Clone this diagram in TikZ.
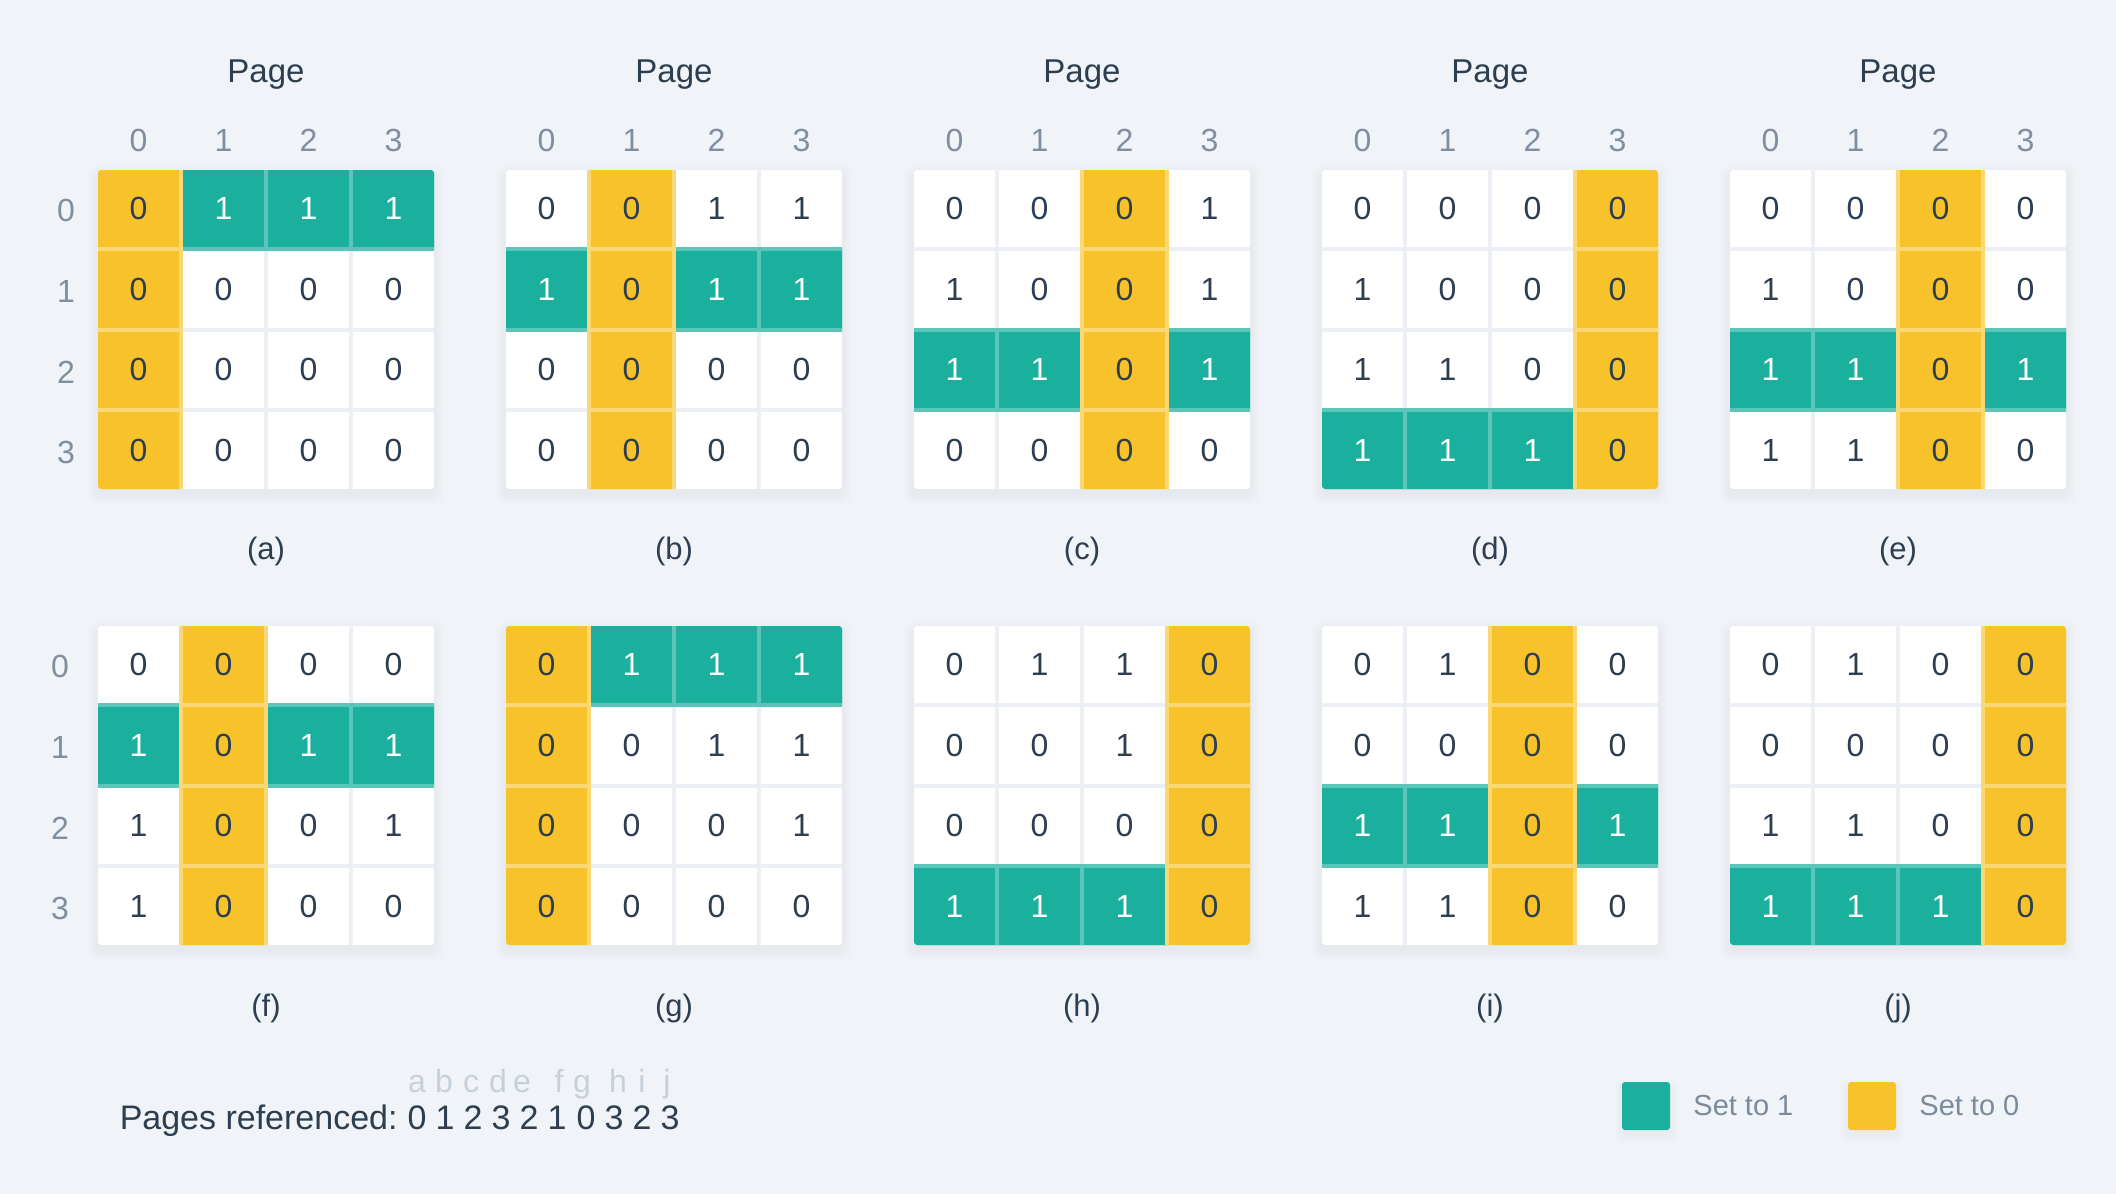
\documentclass[tikz,border=0pt]{standalone}
\usepackage{fontspec}
\setmainfont{Liberation Sans}
\definecolor{bg}{HTML}{F0F3F7}
\definecolor{gapc}{HTML}{ECF0F4}
\definecolor{tealc}{HTML}{1BAF9E}
\definecolor{yelc}{HTML}{F8C32A}
\definecolor{darkc}{HTML}{2C3E50}
\definecolor{hdrc}{HTML}{7F8FA0}
\definecolor{faintc}{HTML}{C6D0DB}
\definecolor{legc}{HTML}{7B8B9C}
\colorlet{teallt}{tealc!72!white}
\colorlet{yellt}{yelc!65!white}
\tikzset{
  celltxt/.style={font=\fontsize{16}{19}\selectfont, text=darkc, inner sep=0pt, anchor=center},
  hdrtxt/.style={font=\fontsize{16}{19}\selectfont, text=hdrc, inner sep=0pt, anchor=center},
  pagetxt/.style={font=\fontsize{16.5}{19}\selectfont, text=darkc, inner sep=0pt, anchor=base},
  captxt/.style={font=\fontsize{15.5}{19}\selectfont, text=darkc, inner sep=0pt, anchor=center},
  reftxt/.style={font=\fontsize{17}{19}\selectfont, text=darkc, inner sep=0pt, anchor=base},
  lettxt/.style={font=\fontsize{16}{19}\selectfont, text=faintc, inner sep=0pt, anchor=base},
  legtxt/.style={font=\fontsize{14.5}{19}\selectfont, text=legc, inner sep=0pt, anchor=base west},
  tealcell/.style={fill=tealc, draw=teallt, line width=2pt},
  yelcell/.style={fill=yelc, draw=yellt, line width=2pt},
  softshadow/.style={fill=black, opacity=0.005},
  legsq/.style={minimum size=24pt, inner sep=0pt, rounded corners=1.5pt, draw=none},
}
% #1 name, #2 left, #3 top, #4 teal row, #5 yellow column, #6 values, #7 caption y
\newcommand\pgrid[7]{%
  \foreach \i in {1,...,10}
    \fill[softshadow, rounded corners=4pt] ({#2-\i},{#3-\i+5}) rectangle ({#2+336+\i},{#3+319+\i+5});
  \begin{scope}
    \clip[rounded corners=1.5pt] (#2,#3) rectangle ++(336,319);
    \fill[gapc] (#2,#3) rectangle ++(336,319);
    \foreach \rr in {0,...,3}
      \foreach \cc in {0,...,3}
        \fill[white] ({#2+85*\cc},{#3+80.75*\rr}) rectangle ++(81,76.75);
    \foreach \cc in {0,...,3} {
      \ifnum\cc=#5\relax\else
        \filldraw[tealcell] ({#2-2+85*\cc},{#3-2+80.75*#4}) rectangle ++(85,80.75);
      \fi
    }
    \foreach \rr in {0,...,3}
      \filldraw[yelcell] ({#2-2+85*#5},{#3-2+80.75*\rr}) rectangle ++(85,80.75);
  \end{scope}
  \foreach \rv [count=\rr from 0] in {#6} {
    \foreach \v [count=\cc from 0] in \rv {
      \ifnum\rr=#4\relax
        \ifnum\cc=#5\relax\def\tcol{darkc}\else\def\tcol{white}\fi
      \else\def\tcol{darkc}\fi
      \node[celltxt, text=\tcol] (#1-\rr-\cc) at ({#2+85*\cc+40.5},{#3+80.75*\rr+38.375}) {\v};
    }
  }
  \node[captxt] (#1-cap) at ({#2+168},#7) {(#1)};
}
\begin{document}
\begin{tikzpicture}[x=0.5pt, y=-0.5pt]
  \useasboundingbox (0,0) rectangle (2116,1194);
  \fill[bg] (0,0) rectangle (2116,1194);

  \pgrid{a}{98}{170}{0}{0}{{0,1,1,1},{0,0,0,0},{0,0,0,0},{0,0,0,0}}{551}
  \pgrid{b}{506}{170}{1}{1}{{0,0,1,1},{1,0,1,1},{0,0,0,0},{0,0,0,0}}{551}
  \pgrid{c}{914}{170}{2}{2}{{0,0,0,1},{1,0,0,1},{1,1,0,1},{0,0,0,0}}{551}
  \pgrid{d}{1322}{170}{3}{3}{{0,0,0,0},{1,0,0,0},{1,1,0,0},{1,1,1,0}}{551}
  \pgrid{e}{1730}{170}{2}{2}{{0,0,0,0},{1,0,0,0},{1,1,0,1},{1,1,0,0}}{551}
  \pgrid{f}{98}{626}{1}{1}{{0,0,0,0},{1,0,1,1},{1,0,0,1},{1,0,0,0}}{1008}
  \pgrid{g}{506}{626}{0}{0}{{0,1,1,1},{0,0,1,1},{0,0,0,1},{0,0,0,0}}{1008}
  \pgrid{h}{914}{626}{3}{3}{{0,1,1,0},{0,0,1,0},{0,0,0,0},{1,1,1,0}}{1008}
  \pgrid{i}{1322}{626}{2}{2}{{0,1,0,0},{0,0,0,0},{1,1,0,1},{1,1,0,0}}{1008}
  \pgrid{j}{1730}{626}{3}{3}{{0,1,0,0},{0,0,0,0},{1,1,0,0},{1,1,1,0}}{1008}

  % titles and column headers (top row)
  \foreach \g/\L in {a/98,b/506,c/914,d/1322,e/1730} {
    \node[pagetxt] (\g-title) at ({\L+168},83) {Page};
    \foreach \cc in {0,...,3}
      \node[hdrtxt] (\g-col\cc) at ({\L+85*\cc+40.5},140) {\cc};
  }
  % row headers
  \foreach \rr in {0,...,3} {
    \node[hdrtxt] (a-row\rr) at (66,{170+80.75*\rr+40.5}) {\rr};
    \node[hdrtxt] (f-row\rr) at (60,{626+80.75*\rr+40.5}) {\rr};
  }

  % reference string
  \node[reftxt, anchor=base east] (reflabel) at (398,1129) {Pages referenced:};
  \foreach \d/\x/\lt/\lx [count=\k] in {0/417/a/417,1/445/b/444,2/473/c/471,3/501/d/498,2/529/e/522,1/557/f/559,0/586/g/582,3/614/h/618,2/642/i/642,3/670/j/667} {
    \node[reftxt] (ref\k) at (\x,1129) {\d};
    \node[lettxt] (let\k) at (\lx,1092) {\lt};
  }

  % legend
  \foreach \i in {1,...,8} {
    \fill[softshadow, rounded corners=3pt] ({1622-\i},{1082-\i+5}) rectangle ({1670+\i},{1130+\i+5});
    \fill[softshadow, rounded corners=3pt] ({1848-\i},{1082-\i+5}) rectangle ({1896+\i},{1130+\i+5});
  }
  \node[legsq, fill=tealc] (leg1) at (1646,1106) {};
  \node[legsq, fill=yelc] (leg0) at (1872,1106) {};
  \node[legtxt] (leg1t) at (1693,1115) {Set to 1};
  \node[legtxt] (leg0t) at (1919,1115) {Set to 0};
\end{tikzpicture}
\end{document}
